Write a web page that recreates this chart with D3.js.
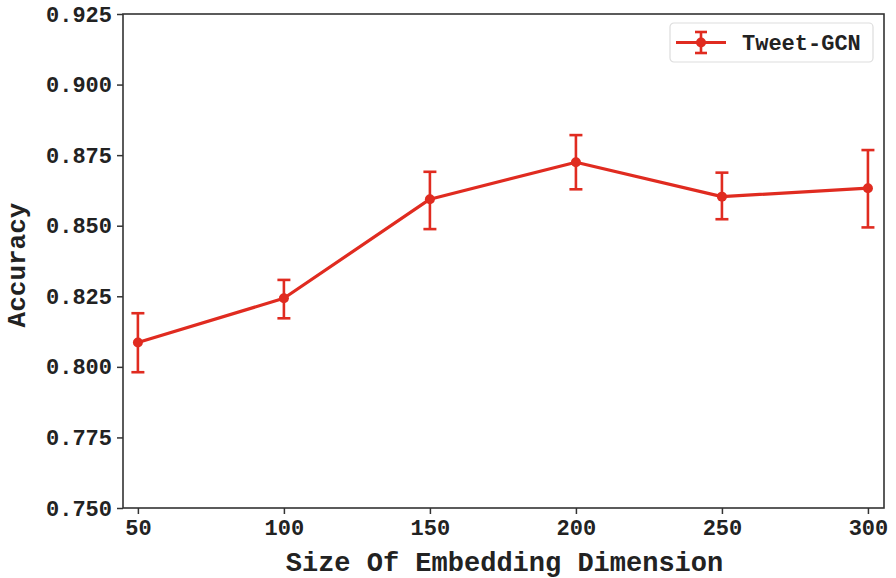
<!DOCTYPE html>
<html>
<head>
<meta charset="utf-8">
<script src="https://cdn.jsdelivr.net/npm/d3@7"></script>
<style>
  body { margin: 0; background: #fff; }
  svg text { font-family: "Liberation Mono", "DejaVu Sans Mono", monospace; font-weight: bold; fill: #222; }
</style>
</head>
<body>
<div id="chart"></div>
<script>
// data
const dims = [50, 100, 150, 200, 250, 300]
const acc = [0.8086, 0.8243, 0.8594, 0.8725, 0.8603, 0.8633]
const accLow = [0.7981, 0.8172, 0.8488, 0.8629, 0.8523, 0.8494]
const accHigh = [0.8190, 0.8308, 0.8691, 0.8821, 0.8688, 0.8768]
const yTicks = [0.750, 0.775, 0.800, 0.825, 0.850, 0.875, 0.900, 0.925]
const seriesName = "Tweet-GCN"

const width = 896, height = 578
const margin = {top: 14, right: 12, bottom: 70, left: 123}
const red = "#e02b20"

var svg = d3.select("#chart")
    .append("svg")
    .attr("width", width)
    .attr("height", height)

var x = d3.scaleLinear()
    .domain([44.9, 305.5])
    .range([margin.left, width - margin.right])

var y = d3.scaleLinear()
    .domain([0.750, 0.925])
    .range([height - margin.bottom, margin.top])

// frame
svg.append("rect")
    .attr("x", margin.left)
    .attr("y", margin.top)
    .attr("width", width - margin.right - margin.left)
    .attr("height", height - margin.bottom - margin.top)
    .attr("fill", "none")
    .attr("stroke", "#333")
    .attr("stroke-width", 1.6)

// axes
var xAxis = svg.append("g")
    .attr("transform", "translate(0," + (height - margin.bottom) + ")")
    .call(d3.axisBottom(x).tickValues(dims).tickSize(6).tickPadding(5))
var yAxis = svg.append("g")
    .attr("transform", "translate(" + margin.left + ",0)")
    .call(d3.axisLeft(y).tickValues(yTicks).tickFormat(d3.format(".3f")).tickSize(6).tickPadding(5))

;[xAxis, yAxis].forEach(function (g) {
    g.select(".domain").remove()
    g.selectAll(".tick line").attr("stroke", "#333").attr("stroke-width", 1.5)
    g.selectAll(".tick text").style("font-size", "22px").attr("fill", "#222")
})

// axis labels
svg.append("text")
    .attr("x", (margin.left + width - margin.right) / 2 + 1)
    .attr("y", 571)
    .style("text-anchor", "middle")
    .style("font-size", "27px")
    .text("Size Of Embedding Dimension")

svg.append("text")
    .attr("transform", "translate(25," + ((margin.top + height - margin.bottom) / 2 + 4) + ") rotate(-90)")
    .style("text-anchor", "middle")
    .style("font-size", "26px")
    .text("Accuracy")

var data = dims.map(function (d, i) {
    return {dim: d, v: acc[i], lo: accLow[i], hi: accHigh[i]}
})

// line
svg.append("path")
    .datum(data)
    .attr("fill", "none")
    .attr("stroke", red)
    .attr("stroke-width", 3.2)
    .attr("stroke-linejoin", "round")
    .attr("d", d3.line().x(d => x(d.dim)).y(d => y(d.v)))

// error bars
var eb = svg.selectAll(".err")
    .data(data)
    .enter()
    .append("g")
    .attr("stroke", red)
    .attr("stroke-width", 2.6)

eb.append("line")
    .attr("x1", d => x(d.dim)).attr("x2", d => x(d.dim))
    .attr("y1", d => y(d.lo)).attr("y2", d => y(d.hi))
eb.append("line")
    .attr("x1", d => x(d.dim) - 6.5).attr("x2", d => x(d.dim) + 6.5)
    .attr("y1", d => y(d.lo)).attr("y2", d => y(d.lo))
eb.append("line")
    .attr("x1", d => x(d.dim) - 6.5).attr("x2", d => x(d.dim) + 6.5)
    .attr("y1", d => y(d.hi)).attr("y2", d => y(d.hi))

svg.selectAll(".pt")
    .data(data)
    .enter()
    .append("circle")
    .attr("cx", d => x(d.dim))
    .attr("cy", d => y(d.v))
    .attr("r", 5)
    .attr("fill", red)

// legend
var lg = svg.append("g").attr("transform", "translate(670,23)")
lg.append("rect")
    .attr("width", 203).attr("height", 39).attr("rx", 4)
    .attr("fill", "#fff").attr("stroke", "#ddd").attr("stroke-width", 1.2)
lg.append("line")
    .attr("x1", 6).attr("x2", 56).attr("y1", 19.5).attr("y2", 19.5)
    .attr("stroke", red).attr("stroke-width", 3.2)
lg.append("line")
    .attr("x1", 31).attr("x2", 31).attr("y1", 9).attr("y2", 30)
    .attr("stroke", red).attr("stroke-width", 2.6)
lg.append("line")
    .attr("x1", 25).attr("x2", 37).attr("y1", 9).attr("y2", 9)
    .attr("stroke", red).attr("stroke-width", 2.6)
lg.append("line")
    .attr("x1", 25).attr("x2", 37).attr("y1", 30).attr("y2", 30)
    .attr("stroke", red).attr("stroke-width", 2.6)
lg.append("circle").attr("cx", 31).attr("cy", 19.5).attr("r", 5).attr("fill", red)
lg.append("text")
    .attr("x", 72).attr("y", 27)
    .style("font-size", "22px")
    .text(seriesName)
</script>
</body>
</html>
